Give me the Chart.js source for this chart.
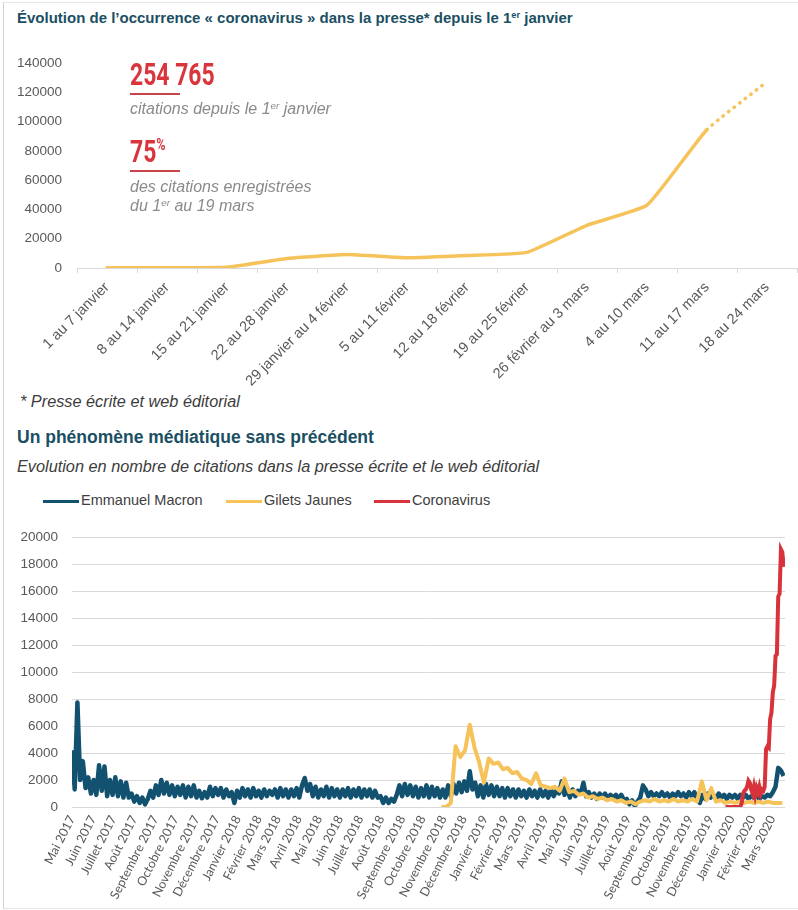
<!DOCTYPE html>
<html lang="fr">
<head>
<meta charset="utf-8">
<title>Coronavirus dans la presse</title>
<script src="https://cdn.jsdelivr.net/npm/chart.js@4/dist/chart.umd.min.js"></script>
<style>
  html, body { margin: 0; padding: 0; background: #fff; }
  body { width: 798px; height: 910px; position: relative; overflow: hidden;
         font-family: "Liberation Sans", Arial, sans-serif; }
  .frame { position: absolute; left: 3px; top: 2px; width: 794px; height: 905px;
           border-left: 1px solid #cfcfcf; border-top: 1px solid #e6e6e6; border-bottom: 1px solid #e6e6e6; }
  .title { position: absolute; left: 17px; font-weight: bold; font-size: 15px; line-height: 18px;
           color: #1b4f63; white-space: nowrap; }
  .title sup, .note sup { font-size: 0.62em; vertical-align: 0.5em; line-height: 0; }
  .sub { position: absolute; left: 17px; font-style: italic; font-size: 16.3px; line-height: 18px;
         color: #3c3c3c; white-space: nowrap; }
  .big { position: absolute; left: 130px; font-family: Roboto, sans-serif; font-weight: bold;
         font-size: 31px; line-height: 31px; color: #d8353d; white-space: nowrap;
         transform: scaleX(0.74); transform-origin: left top; }
  .big .pct { font-size: 17px; vertical-align: top; line-height: 17px; }
  .rule { position: absolute; left: 130px; width: 50px; height: 2px; background: #c9434a; }
  .note { position: absolute; left: 130px; font-style: italic; font-size: 16px; line-height: 19px;
          color: #8a8a8a; white-space: nowrap; }
  canvas { position: absolute; left: 0; }
  .legend { position: absolute; top: 491px; left: 0; font-size: 14.5px; color: #404040; }
  .legend-item { position: absolute; white-space: nowrap; line-height: 18px; }
  .legend-line { display: inline-block; width: 36px; height: 3px; vertical-align: middle; margin-right: 2px; }
</style>
</head>
<body>
<div class="frame"></div>

<div class="title" style="top:9px">Évolution de l’occurrence « coronavirus » dans la presse* depuis le 1<sup>er</sup> janvier</div>

<canvas id="chart-weekly" width="798" height="350" style="top:40px"></canvas>

<div class="big" style="top:59px">254 765</div>
<div class="rule" style="top:93px"></div>
<div class="note" style="top:99px">citations depuis le 1<sup>er</sup> janvier</div>
<div class="big" style="top:136px">75<span class="pct">%</span></div>
<div class="rule" style="top:170px"></div>
<div class="note" style="top:177px">des citations enregistrées<br>du 1<sup>er</sup> au 19 mars</div>

<div class="sub" style="top:392px; left:20px">* Presse écrite et web éditorial</div>

<div class="title" style="top:427px; font-size:17.5px; line-height:20px">Un phénomène médiatique sans précédent</div>
<div class="sub" style="top:457px">Evolution en nombre de citations dans la presse écrite et le web éditorial</div>

<div class="legend" id="legend-daily"></div>

<canvas id="chart-daily" width="798" height="390" style="top:515px"></canvas>

<script>
// ── Chart 1 : occurrences hebdomadaires depuis le 1er janvier ──
const WEEK_LABELS = [
  '1 au 7 janvier', '8 au 14 janvier', '15 au 21 janvier', '22 au 28 janvier',
  '29 janvier au 4 février', '5 au 11 février', '12 au 18 février', '19 au 25 février',
  '26 février au 3 mars', '4 au 10 mars', '11 au 17 mars', '18 au 24 mars'
];
const CORONA_WEEKLY = [100, 200, 500, 6500, 9200, 7000, 8500, 10700, 29200, 42900, 94600, 127300];

// ── Chart 2 : citations depuis mai 2017 (jours depuis le 1er mai 2017) ──
const MONTH_LABELS = [
  'Mai 2017', 'Juin 2017', 'Juillet 2017', 'Août 2017', 'Septembre 2017', 'Octobre 2017',
  'Novembre 2017', 'Décembre 2017', 'Janvier 2018', 'Février 2018', 'Mars 2018', 'Avril 2018',
  'Mai 2018', 'Juin 2018', 'Juillet 2018', 'Août 2018', 'Septembre 2018', 'Octobre 2018',
  'Novembre 2018', 'Décembre 2018', 'Janvier 2019', 'Février 2019', 'Mars 2019', 'Avril 2019',
  'Mai 2019', 'Juin 2019', 'Juillet 2019', 'Août 2019', 'Septembre 2019', 'Octobre 2019',
  'Novembre 2019', 'Décembre 2019', 'Janvier 2020', 'Février 2020', 'Mars 2020'
];
const SERIES_NAMES = ['Emmanuel Macron', 'Gilets Jaunes', 'Coronavirus'];
const LAST_DAY = 1054;

// Emmanuel Macron, one value every 4 days from 1 May 2017
const MACRON_START = 0, MACRON_STEP = 4;
const MACRON = [
  4200, 1300, 7750, 2000, 3400, 1400, 2200, 1000, 2000, 900,
  3100, 1200, 3000, 800, 2000, 900, 2200, 800, 1900, 700,
  1800, 700, 1000, 400, 800, 300, 700, 200, 600, 1200,
  700, 1600, 900, 2000, 1000, 1800, 900, 1600, 800, 1500,
  900, 1600, 700, 1500, 800, 1600, 700, 1200, 650, 1100,
  700, 1500, 800, 1400, 900, 1400, 700, 1300, 800, 1100,
  300, 1200, 700, 1400, 800, 1300, 700, 1400, 800, 1200,
  700, 1300, 800, 1200, 900, 1300, 700, 1400, 800, 1300,
  700, 1300, 800, 1400, 700, 1600, 2150, 1200, 1700, 800,
  1500, 700, 1300, 800, 1500, 700, 1400, 800, 1300, 700,
  1300, 800, 1400, 700, 1300, 800, 1400, 700, 1300, 800,
  1300, 700, 1200, 700, 800, 300, 700, 300, 600, 400,
  900, 1600, 800, 1700, 900, 1600, 800, 1500, 700, 1400,
  800, 1600, 700, 1500, 800, 1400, 700, 1300, 700, 1600,
  800, 1700, 1000, 1800, 1100, 1900, 1200, 2650, 1300, 1800,
  800, 1600, 700, 1700, 900, 1600, 800, 1500, 800, 1400,
  700, 1400, 800, 1300, 700, 1300, 800, 1200, 700, 1300,
  800, 1200, 700, 1300, 800, 1200, 700, 1300, 800, 1200,
  1000, 1900, 900, 1400, 700, 1300, 800, 1200, 1000, 1800,
  800, 1100, 700, 1000, 600, 1000, 700, 1000, 600, 900,
  700, 900, 600, 900, 500, 600, 200, 500, 100, 400,
  700, 1600, 1300, 800, 1100, 800, 1000, 800, 1100, 800,
  1000, 700, 1000, 800, 1100, 800, 1000, 700, 1100, 800,
  1100, 600, 300, 900, 600, 1000, 700, 900, 600, 1000,
  700, 900, 600, 900, 700, 900, 600, 900, 700, 900,
  600, 800, 700, 900, 600, 800, 700, 900, 800, 1100,
  1500, 2900, 2700, 2300
];

// Gilets Jaunes, one value every 7 days from end of October 2018
const GJ_START = 546, GJ_STEP = 7;
const GILETS_JAUNES = [
  0, 0, 300, 4500, 3700, 4200, 6100, 4400, 3300, 1800,
  3600, 3200, 3300, 2800, 2900, 2500, 2600, 2100, 2000, 1700,
  2500, 1600, 1500, 1400, 1500, 1200, 2100, 1100, 1200, 900,
  1000, 700, 800, 600, 700, 500, 600, 400, 500, 300,
  400, 200, 400, 500, 400, 600, 400, 500, 400, 600,
  400, 500, 400, 600, 400, 1900, 500, 1400, 400, 500,
  300, 400, 300, 400, 300, 400, 300, 400, 300, 400,
  300, 300, 300
];

// Coronavirus, one value every 2 days from late December 2019
const COVID_START = 966, COVID_STEP = 2;
const CORONAVIRUS = [
  0, 0, 0, 0, 0, 0, 0, 0, 0, 0, 0, 0,
  300, 1000, 1200, 1300, 1500, 1950, 1800, 1300, 1000, 1500,
  900, 1400, 1100, 1500, 1000, 1300, 1200, 1500, 4300, 4500,
  4400, 6500, 7000, 8500, 9000, 11200, 11300, 15600, 15800, 19100,
  18900, 17800
];

const COLORS = { macron: '#135170', gilets: '#f6c35a', covid: '#d8333b' };

Chart.defaults.font.family = '"Liberation Sans", Arial, sans-serif';
Chart.defaults.font.size = 13.5;
Chart.defaults.color = '#595959';
Chart.defaults.animation = false;

const plainNumber = v => String(v);

// ── Chart 1 ──
new Chart(document.getElementById('chart-weekly'), {
  type: 'line',
  data: {
    labels: WEEK_LABELS,
    datasets: [{
      data: CORONA_WEEKLY,
      borderColor: COLORS.gilets,
      borderWidth: 3.5,
      borderCapStyle: 'round',
      pointRadius: 0,
      tension: 0.12,
      segment: {
        borderDash: ctx => ctx.p1DataIndex === CORONA_WEEKLY.length - 1 ? [0.5, 6.5] : undefined
      }
    }]
  },
  options: {
    responsive: false,
    layout: { padding: { top: 14, right: 1 } },
    plugins: { legend: { display: false }, tooltip: { enabled: false } },
    scales: {
      x: {
        offset: true,
        grid: { drawOnChartArea: false, drawTicks: true, tickLength: 5, color: '#d9d9d9', offset: true },
        border: { display: true, color: '#d9d9d9' },
        ticks: { autoSkip: false, minRotation: 45, maxRotation: 45, padding: 6, font: { size: 14.5 } },
        afterFit: s => { s.height = 122; }
      },
      y: {
        min: 0, max: 140000,
        grid: { display: false, drawTicks: false },
        border: { display: false },
        ticks: { stepSize: 20000, padding: 15, callback: plainNumber },
        afterFit: s => { s.width = 77; }
      }
    }
  }
});

// ── Chart 2 ──
const startDate = Date.UTC(2017, 4, 1);
const MONTH_DAYS = MONTH_LABELS.map((_, i) => (Date.UTC(2017, 4 + i, 1) - startDate) / 86400000);

function toPoints(values, start, step) {
  return values.map((v, i) => ({ x: start + i * step, y: v }));
}

new Chart(document.getElementById('chart-daily'), {
  type: 'line',
  data: {
    datasets: [
      { label: SERIES_NAMES[0], data: toPoints(MACRON, MACRON_START, MACRON_STEP),
        borderColor: COLORS.macron, borderWidth: 4.5, borderJoinStyle: 'round', pointRadius: 0, order: 3 },
      { label: SERIES_NAMES[1], data: toPoints(GILETS_JAUNES, GJ_START, GJ_STEP),
        borderColor: COLORS.gilets, borderWidth: 4, borderJoinStyle: 'round', pointRadius: 0, order: 2 },
      { label: SERIES_NAMES[2], data: toPoints(CORONAVIRUS, COVID_START, COVID_STEP),
        borderColor: COLORS.covid, borderWidth: 4, pointRadius: 0, order: 1 }
    ]
  },
  options: {
    responsive: false,
    layout: { padding: { top: 17, right: 13 } },
    plugins: { legend: { display: false }, tooltip: { enabled: false } },
    scales: {
      x: {
        type: 'linear', min: 0, max: LAST_DAY,
        grid: { display: false, drawTicks: false },
        border: { display: false },
        afterBuildTicks: s => { s.ticks = MONTH_DAYS.map(v => ({ value: v })); },
        ticks: {
          autoSkip: false, minRotation: 63, maxRotation: 63, padding: 6,
          font: { family: 'Lato', size: 12.5 },
          callback: (v, i) => MONTH_LABELS[i]
        },
        afterFit: s => { s.height = 98; }
      },
      y: {
        min: 0, max: 20000,
        grid: { color: '#d9d9d9', drawTicks: false },
        border: { display: false },
        ticks: { stepSize: 2000, padding: 14, callback: plainNumber },
        afterFit: s => { s.width = 72; }
      }
    }
  }
});

// ── Custom HTML legend ──
const LEGEND_X = [43, 226, 374];
const legendColors = [COLORS.macron, COLORS.gilets, COLORS.covid];
document.getElementById('legend-daily').innerHTML = SERIES_NAMES.map((name, i) =>
  `<span class="legend-item" style="left:${LEGEND_X[i]}px">
     <span class="legend-line" style="background:${legendColors[i]}"></span>${name}
   </span>`
).join('');
</script>
</body>
</html>
